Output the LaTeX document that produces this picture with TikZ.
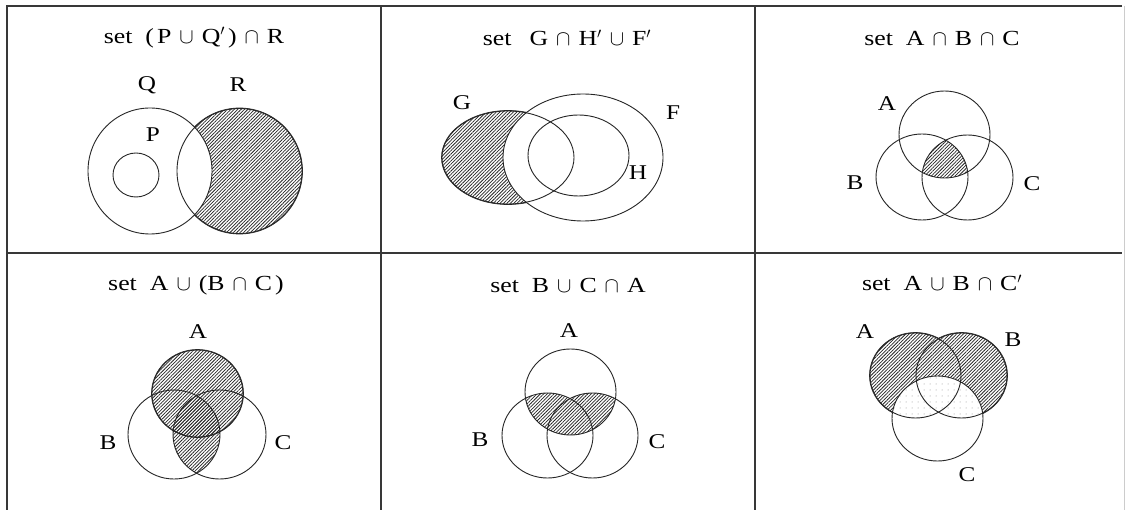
\documentclass[tikz,border=0pt]{standalone}
\usepackage{fix-cm}
\usepackage{fontspec}
\setmainfont{Liberation Serif}[FakeStretch=1.2]
\usetikzlibrary{patterns.meta}
\newcommand{\opgap}{\hspace{8pt}}
\newcommand{\setgap}{\hspace{13pt}}
\begin{document}
\begin{tikzpicture}[x=1pt,y=-1pt,
  rulel/.style={line width=1.8pt, draw=black!78},
  vset/.style={draw=black!85, line width=0.9pt},
  bset/.style={draw=black!85, line width=1.7pt},
  hatch/.style={pattern={Lines[angle=45,distance=2.4pt,line width=0.75pt]}, pattern color=black!85},
  stip/.style={pattern={Dots[distance=6pt,radius=0.5pt]}, pattern color=black!45},
  ttl/.style={font=\fontsize{21.5}{21.5}\selectfont, inner sep=0pt},
  lbl/.style={font=\fontsize{21}{21}\selectfont, inner sep=0pt},
]
\useasboundingbox (0,0) rectangle (1127,510);
\fill[white] (0,0) rectangle (1127,510);

% table
\coordinate (tl) at (7,6);
\coordinate (tr) at (1122,6);
\coordinate (bl) at (7,510);
\coordinate (ml) at (7,253);
\coordinate (mr) at (1122,253);
\coordinate (v1t) at (381,6);
\coordinate (v1b) at (381,510);
\coordinate (v2t) at (755,6);
\coordinate (v2b) at (755,510);
\coordinate (rt) at (1124,6);
\coordinate (rb) at (1124,510);
\draw[rulel] (tr) -- (tl) -- (bl);
\draw[rulel] (ml) -- (mr);
\draw[rulel] (v1t) -- (v1b);
\draw[rulel] (v2t) -- (v2b);
\draw[draw=black!20, line width=0.8pt] (rt) -- (rb);

% ---------- panel 1 ----------
\draw[bset] (239.5,171) circle [radius=62.5];
\fill[white] (239.5,171) circle [radius=62.5];
\fill[hatch] (239.5,171) circle [radius=62.5];
\fill[white] (150,171) ellipse [x radius=62, y radius=63];
\draw[vset] (150,171) ellipse [x radius=62, y radius=63];
\draw[vset] (239.5,171) circle [radius=62.5];
\draw[vset] (136,175) ellipse [x radius=23, y radius=22];
\node[ttl] (t1) at (194,38) {set\setgap(\hspace{3pt}P\opgap$\cup$\opgap Q$'$\hspace{3pt})\opgap$\cap$\opgap R};
\node[lbl] (q1) at (147,85) {Q};
\node[lbl] (r1) at (238,85) {R};
\node[lbl] (p1) at (153,135) {P};

% ---------- panel 2 ----------
\draw[bset] (508,157.5) ellipse [x radius=66, y radius=46.5];
\fill[white] (508,157.5) ellipse [x radius=66, y radius=46.5];
\fill[hatch] (508,157.5) ellipse [x radius=66, y radius=46.5];
\fill[white] (583,157.5) ellipse [x radius=80, y radius=63.5];
\draw[vset] (508,157.5) ellipse [x radius=66, y radius=46.5];
\draw[vset] (583,157.5) ellipse [x radius=80, y radius=63.5];
\draw[vset] (578.5,155.5) ellipse [x radius=50.5, y radius=40.5];
\node[ttl] (t2) at (567,38) {set\hspace{18pt}G\opgap$\cap$\opgap H$'$\opgap$\cup$\opgap F$'$};
\node[lbl] (g2) at (462,103) {G};
\node[lbl] (f2) at (673,113) {F};
\node[lbl] (h2) at (638,173) {H};

% ---------- panel 3 ----------
\begin{scope}
\clip (944.5,134.5) ellipse [x radius=45.5, y radius=43.5];
\clip (922,177) ellipse [x radius=46, y radius=43];
\fill[hatch] (967.5,177.5) ellipse [x radius=45.5, y radius=42.5];
\end{scope}
\draw[vset] (944.5,134.5) ellipse [x radius=45.5, y radius=43.5];
\draw[vset] (922,177) ellipse [x radius=46, y radius=43];
\draw[vset] (967.5,177.5) ellipse [x radius=45.5, y radius=42.5];
\node[ttl] (t3) at (942,38) {set\setgap A\opgap$\cap$\opgap B\opgap$\cap$\opgap C};
\node[lbl] (a3) at (887,104) {A};
\node[lbl] (b3) at (855,183) {B};
\node[lbl] (c3) at (1032,184) {C};

% ---------- panel 4 ----------
\draw[bset] (197.5,393.5) ellipse [x radius=45.5, y radius=43.5];
\fill[white] (197.5,393.5) ellipse [x radius=45.5, y radius=43.5];
\fill[hatch] (197.5,393.5) ellipse [x radius=45.5, y radius=43.5];
\begin{scope}
\clip (174,434.5) ellipse [x radius=46, y radius=44.5];
\fill[hatch] (219.5,434.5) ellipse [x radius=46.5, y radius=44.5];
\end{scope}
\draw[vset] (197.5,393.5) ellipse [x radius=45.5, y radius=43.5];
\draw[vset] (174,434.5) ellipse [x radius=46, y radius=44.5];
\draw[vset] (219.5,434.5) ellipse [x radius=46.5, y radius=44.5];
\node[ttl] (t4) at (196,285) {set\setgap A\opgap$\cup$\opgap(B\opgap$\cap$\opgap C\hspace{3pt})};
\node[lbl] (a4) at (198,332) {A};
\node[lbl] (b4) at (108,443) {B};
\node[lbl] (c4) at (283,443) {C};

% ---------- panel 5 ----------
\begin{scope}
\clip (570.5,392) ellipse [x radius=45.5, y radius=43];
\fill[hatch] (547.5,435.5) ellipse [x radius=45.5, y radius=42.5]
             (592.5,435.5) ellipse [x radius=45.5, y radius=42.5];
\end{scope}
\draw[vset] (570.5,392) ellipse [x radius=45.5, y radius=43];
\draw[vset] (547.5,435.5) ellipse [x radius=45.5, y radius=42.5];
\draw[vset] (592.5,435.5) ellipse [x radius=45.5, y radius=42.5];
\node[ttl] (t5) at (568,285) {set\setgap B\opgap$\cup$\opgap C\opgap$\cap$\opgap A};
\node[lbl] (a5) at (569,331) {A};
\node[lbl] (b5) at (480,440) {B};
\node[lbl] (c5) at (657,442) {C};

% ---------- panel 6 ----------
\draw[bset] (915.5,375.5) ellipse [x radius=45.5, y radius=42.5];
\draw[bset] (961.5,375.5) ellipse [x radius=45.5, y radius=42.5];
\fill[white] (915.5,375.5) ellipse [x radius=45.5, y radius=42.5]
             (961.5,375.5) ellipse [x radius=45.5, y radius=42.5];
\fill[hatch] (915.5,375.5) ellipse [x radius=45.5, y radius=42.5]
             (961.5,375.5) ellipse [x radius=45.5, y radius=42.5];
\fill[white] (937.5,418.5) ellipse [x radius=45.5, y radius=42.5];
\begin{scope}
\clip (937.5,418.5) ellipse [x radius=45.5, y radius=42.5];
\fill[stip] (915.5,375.5) ellipse [x radius=45.5, y radius=42.5]
            (961.5,375.5) ellipse [x radius=45.5, y radius=42.5];
\end{scope}
\draw[vset] (915.5,375.5) ellipse [x radius=45.5, y radius=42.5];
\draw[vset] (961.5,375.5) ellipse [x radius=45.5, y radius=42.5];
\draw[vset] (937.5,418.5) ellipse [x radius=45.5, y radius=42.5];
\node[ttl] (t6) at (942,283) {set\setgap A\opgap$\cup$\opgap B\opgap$\cap$\opgap C$'$};
\node[lbl] (a6) at (865,332) {A};
\node[lbl] (b6) at (1013,340) {B};
\node[lbl] (c6) at (967,475) {C};
\end{tikzpicture}
\end{document}
